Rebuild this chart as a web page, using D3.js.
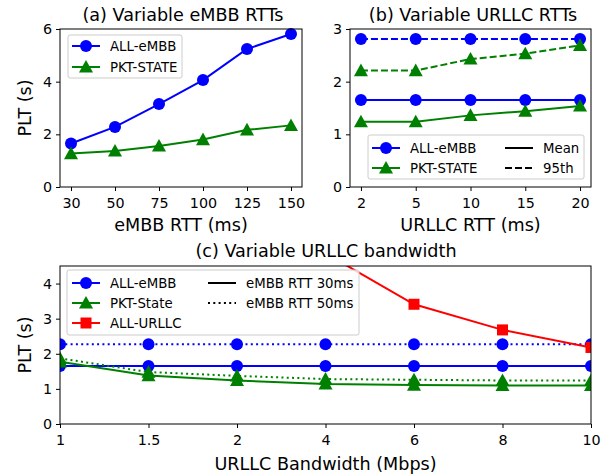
<!DOCTYPE html>
<html lang="en">
<head>
<meta charset="UTF-8">
<title>PLT</title>
<script src="https://cdnjs.cloudflare.com/ajax/libs/d3/7.8.5/d3.min.js"></script>
<style>
  body { margin: 0; background: #fff; }
  text { font-family: "DejaVu Sans", sans-serif; fill: #000; }
</style>
</head>
<body>
<div id="chart"></div>
<script>
// (a) variable eMBB RTT
const rttA = ['30', '50', '75', '100', '125', '150'];
const allEmbbA = [1.65, 2.28, 3.15, 4.06, 5.24, 5.81];
const pktStateA = [1.27, 1.37, 1.56, 1.80, 2.17, 2.34];

// (b) variable URLLC RTT
const rttB = ['2', '5', '10', '15', '20'];
const allEmbbMeanB = [1.65, 1.65, 1.65, 1.65, 1.65];
const allEmbb95B = [2.81, 2.81, 2.81, 2.81, 2.81];
const pktStateMeanB = [1.24, 1.24, 1.36, 1.44, 1.54];
const pktState95B = [2.21, 2.21, 2.43, 2.53, 2.69];

// (c) variable URLLC bandwidth
const bwC = ['1', '1.5', '2', '4', '6', '8', '10'];
const allEmbb30C = [1.65, 1.65, 1.65, 1.65, 1.65, 1.65, 1.65];
const allEmbb50C = [2.27, 2.27, 2.27, 2.27, 2.27, 2.27, 2.27];
const pktState30C = [1.77, 1.38, 1.24, 1.14, 1.11, 1.10, 1.10];
const pktState50C = [1.87, 1.48, 1.37, 1.28, 1.26, 1.24, 1.24];
const allUrllcC = [9.5, 7.2, 6.0, 4.86, 3.41, 2.68, 2.18];

const BLUE = '#0000ff', GREEN = '#008000', RED = '#ff0000';
const LABEL_FS = 17.6, TICK_FS = 14.3, LEG_FS = 13.3;

const svg = d3.select('#chart').append('svg')
  .attr('width', 613).attr('height', 475);

let clipId = 0;

function panel(o) {
  const x = d3.scalePoint().domain(o.cats).range([o.x0, o.x1]).padding(o.pad);
  const y = d3.scaleLinear().domain([0, o.ymax]).range([o.y1, o.y0]);
  const g = svg.append('g');

  const id = 'clip' + (clipId++);
  g.append('clipPath').attr('id', id).append('rect')
    .attr('x', o.x0).attr('y', o.y0).attr('width', o.x1 - o.x0).attr('height', o.y1 - o.y0);
  const plot = g.append('g').attr('clip-path', o.clip ? `url(#${id})` : null);

  o.series.forEach(s => {
    const pts = s.values.map((v, i) => [x(o.cats[i]), y(v)]);
    plot.append('path')
      .attr('d', d3.line()(pts))
      .attr('fill', 'none').attr('stroke', s.color).attr('stroke-width', 2)
      .attr('stroke-dasharray', s.dash || null);
    pts.forEach(p => drawMarker(plot, s.marker, p[0], p[1], s.color));
  });

  // axes
  const xa = g.append('g').attr('transform', `translate(0,${o.y1})`)
    .call(d3.axisBottom(x).tickSize(4).tickPadding(4));
  const ya = g.append('g').attr('transform', `translate(${o.x0},0)`)
    .call(d3.axisLeft(y).tickValues(o.yticks).tickFormat(d3.format('d')).tickSize(4).tickPadding(4));
  [xa, ya].forEach(a => {
    a.select('.domain').remove();
    a.selectAll('text').attr('font-size', TICK_FS).attr('font-family', 'DejaVu Sans');
    a.selectAll('line').attr('stroke', '#000');
  });
  xa.selectAll('text').attr('dy', '0.92em');

  g.append('rect').attr('x', o.x0).attr('y', o.y0)
    .attr('width', o.x1 - o.x0).attr('height', o.y1 - o.y0)
    .attr('fill', 'none').attr('stroke', '#000').attr('stroke-width', 1);

  g.append('text').attr('x', o.titleX).attr('y', o.titleY)
    .attr('text-anchor', 'middle').attr('font-size', LABEL_FS).text(o.title);
  g.append('text').attr('x', (o.x0 + o.x1) / 2).attr('y', o.xlabelY)
    .attr('text-anchor', 'middle').attr('font-size', LABEL_FS).text(o.xlabel);
  if (o.ylabel) {
    g.append('text')
      .attr('transform', `translate(${o.ylabelX},${(o.y0 + o.y1) / 2}) rotate(-90)`)
      .attr('text-anchor', 'middle').attr('font-size', LABEL_FS).text(o.ylabel);
  }
  return g;
}

function drawMarker(g, type, cx, cy, color) {
  if (type === 'circle') {
    g.append('circle').attr('cx', cx).attr('cy', cy).attr('r', 6).attr('fill', color);
  } else if (type === 'triangle') {
    const s = 7;
    g.append('path')
      .attr('d', `M${cx},${cy - s}L${cx + s},${cy + s * 0.8}L${cx - s},${cy + s * 0.8}Z`)
      .attr('fill', color);
  } else if (type === 'square') {
    g.append('rect').attr('x', cx - 5.5).attr('y', cy - 5.5)
      .attr('width', 11).attr('height', 11).attr('fill', color);
  }
}

function legend(x, y, w, h, rows) {
  const g = svg.append('g');
  g.append('rect').attr('x', x).attr('y', y).attr('width', w).attr('height', h).attr('rx', 2)
    .attr('fill', '#fff').attr('fill-opacity', 0.8).attr('stroke', '#ccc').attr('stroke-width', 1);
  rows.forEach(r => {
    g.append('line').attr('x1', r.x).attr('x2', r.x + 28).attr('y1', r.y).attr('y2', r.y)
      .attr('stroke', r.color).attr('stroke-width', 2).attr('stroke-dasharray', r.dash || null);
    if (r.marker) drawMarker(g, r.marker, r.x + 14, r.y, r.color);
    g.append('text').attr('x', r.x + 38).attr('y', r.y).attr('dy', '0.35em')
      .attr('font-size', LEG_FS).text(r.label);
  });
}

// panel (a)
panel({
  cats: rttA, x0: 60, x1: 302, y0: 29, y1: 187, pad: 0.25, ymax: 6, yticks: [0, 2, 4, 6],
  title: '(a) Variable eMBB RTTs', titleX: 183, titleY: 21,
  xlabel: 'eMBB RTT (ms)', xlabelY: 231, ylabel: 'PLT (s)', ylabelX: 31,
  series: [
    { values: allEmbbA, color: BLUE, marker: 'circle' },
    { values: pktStateA, color: GREEN, marker: 'triangle' }
  ]
});
legend(68, 35, 114, 43, [
  { x: 72, y: 46, color: BLUE, marker: 'circle', label: 'ALL-eMBB' },
  { x: 72, y: 67, color: GREEN, marker: 'triangle', label: 'PKT-STATE' }
]);

// panel (b)
panel({
  cats: rttB, x0: 350, x1: 591, y0: 29, y1: 187, pad: 0.2, ymax: 3, yticks: [0, 1, 2, 3],
  title: '(b) Variable URLLC RTTs', titleX: 473, titleY: 21,
  xlabel: 'URLLC RTT (ms)', xlabelY: 231,
  series: [
    { values: allEmbbMeanB, color: BLUE, marker: 'circle' },
    { values: allEmbb95B, color: BLUE, marker: 'circle', dash: '7,3' },
    { values: pktStateMeanB, color: GREEN, marker: 'triangle' },
    { values: pktState95B, color: GREEN, marker: 'triangle', dash: '7,3' }
  ]
});
legend(368, 135, 216, 44, [
  { x: 372, y: 148, color: BLUE, marker: 'circle', label: 'ALL-eMBB' },
  { x: 372, y: 168, color: GREEN, marker: 'triangle', label: 'PKT-STATE' },
  { x: 505, y: 148, color: '#000', label: 'Mean' },
  { x: 505, y: 168, color: '#000', dash: '7,3', label: '95th' }
]);

// panel (c)
panel({
  cats: bwC, x0: 60, x1: 591, y0: 266, y1: 424, pad: 0, ymax: 4.5, yticks: [0, 1, 2, 3, 4],
  clip: true,
  title: '(c) Variable URLLC bandwidth', titleX: 326, titleY: 257,
  xlabel: 'URLLC Bandwidth (Mbps)', xlabelY: 470, ylabel: 'PLT (s)', ylabelX: 31,
  series: [
    { values: allEmbb30C, color: BLUE, marker: 'circle' },
    { values: allEmbb50C, color: BLUE, marker: 'circle', dash: '2,3.3' },
    { values: pktState30C, color: GREEN, marker: 'triangle' },
    { values: pktState50C, color: GREEN, marker: 'triangle', dash: '2,3.3' },
    { values: allUrllcC, color: RED, marker: 'square' }
  ]
});
legend(67, 270, 292, 65, [
  { x: 72, y: 283, color: BLUE, marker: 'circle', label: 'ALL-eMBB' },
  { x: 72, y: 303, color: GREEN, marker: 'triangle', label: 'PKT-State' },
  { x: 72, y: 323, color: RED, marker: 'square', label: 'ALL-URLLC' },
  { x: 208, y: 283, color: '#000', label: 'eMBB RTT 30ms' },
  { x: 208, y: 303, color: '#000', dash: '2,3.3', label: 'eMBB RTT 50ms' }
]);
</script>
</body>
</html>
